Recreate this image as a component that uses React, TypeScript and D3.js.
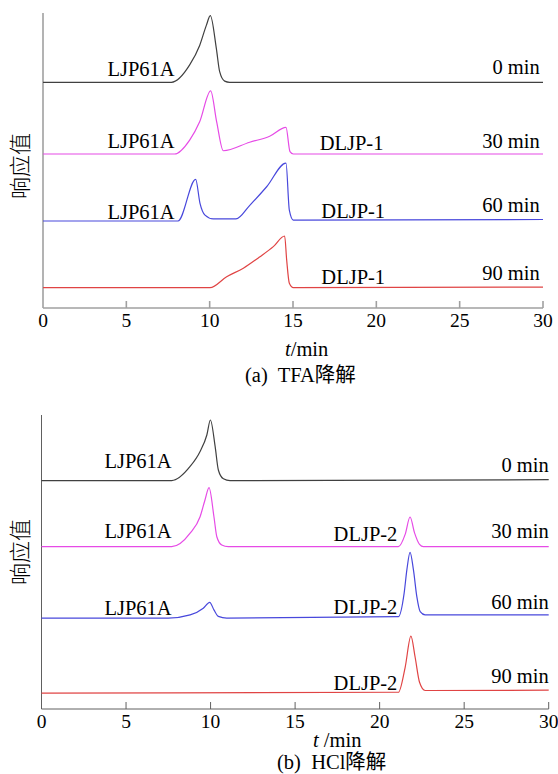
import * as d3 from "d3";
import { useEffect, useRef } from "react";

// time axis ticks (min)
const timeTicks = [0, 5, 10, 15, 20, 25, 30];
const sampleTimes = ["0 min", "30 min", "60 min", "90 min"];
const traceColors = ["#404040", "#e64be6", "#4848dc", "#e04444"];

// (a) TFA degradation: trace baselines and [t, response above baseline]
const tfaBaselines = [76.5, 52.2, 29.5, 6.9];
const tfa0 = [[0, 0], [7.7, 0], [8.8, 5.9], [9.4, 12.5], [9.8, 19.3], [10.04, 22.6], [10.4, 11.5], [10.6, 3.6], [10.9, 0.4], [11.2, 0], [30, 0]];
const tfa30 = [[0, 0], [7.9, 0], [8.8, 4.7], [9.4, 10.9], [10.06, 21.4], [10.42, 10.9], [10.82, 1.1], [12.4, 4.0], [13.6, 6.0], [14.58, 9.0], [14.82, 0.8], [15.02, 0], [30, 0]];
const tfa60 = [[0, 0], [8.1, 0], [9.16, 14.1], [9.42, 6.0], [9.72, 2.0], [10.22, 0.7], [11.58, 0.7], [12.42, 5.4], [13.42, 11.6], [14.58, 19.6], [14.78, 3.7], [15.02, 0.3], [30, 0.5]];
const tfa90 = [[0, 0], [10.02, 0], [11.02, 3.7], [12.02, 6.6], [13.02, 10.5], [13.82, 13.9], [14.5, 17.5], [14.62, 9.4], [14.78, 1.5], [15.02, 0], [30, 0.2]];

// (b) HCl degradation
const hclBaselines = [77.7, 55.2, 30.9, 5.4];
const hcl0 = [[0, 0], [7.7, 0], [8.79, 4.8], [9.38, 9.9], [9.78, 15.5], [9.99, 20.6], [10.27, 11.6], [10.46, 3.6], [10.76, 0.6], [11.15, 0], [30, 0.3]];
const hcl30 = [[0, 0], [7.7, 0], [8.79, 4.6], [9.38, 10.2], [9.67, 15.9], [9.91, 20.1], [10.2, 10.2], [10.37, 3.4], [10.66, 0.6], [11.05, 0], [21.11, 0], [21.51, 4.2], [21.8, 10.1], [22.06, 4.8], [22.36, 0.8], [22.59, 0], [30, 0]];
const hcl60 = [[0, 0], [7.5, 0], [8.79, 1.1], [9.57, 3.4], [9.95, 5.4], [10.2, 2.8], [10.46, 0.6], [10.96, 0], [21.11, 0.5], [21.45, 8.5], [21.61, 16.4], [21.8, 22.4], [22.0, 16.4], [22.2, 7.3], [22.4, 2.2], [22.69, 1.1], [30, 1.1]];
const hcl90 = [[0, 0], [21.11, 0.3], [21.51, 8.8], [21.85, 19.4], [22.1, 12.2], [22.36, 3.7], [22.69, 0.9], [30, 1.0]];

// peak labels: [trace index, text, time anchor, anchor side]
const tfaPeakLabels = [[0, "LJP61A", 7.9, "end"], [1, "LJP61A", 7.9, "end"], [1, "DLJP-1", 16.6, "start"], [2, "LJP61A", 7.9, "end"], [2, "DLJP-1", 16.7, "start"], [3, "DLJP-1", 16.7, "start"]];
const hclPeakLabels = [[0, "LJP61A", 7.7, "end"], [1, "LJP61A", 7.7, "end"], [1, "DLJP-2", 21.05, "end"], [2, "LJP61A", 7.7, "end"], [2, "DLJP-2", 21.05, "end"], [3, "DLJP-2", 21.05, "end"]];

const panels = [
    {
        traces: [tfa0, tfa30, tfa60, tfa90],
        baselines: tfaBaselines,
        labels: tfaPeakLabels,
        left: 43, right: 543, top: 13, bottom: 308,
        axisColor: "#a0a0a0", axisWidth: 1.6,
        labelDy: [-6.6, -6, -4, -2, -3.3, -3.7],
        timeDy: [-8.3, -6.3, -9.3, -7.7],
        timeX: 29.8,
        xTitle: "t/min", xTitleX: 285, xTitleY: 356,
        caption: "(a)  TFA降解", captionX: 245, captionY: 382,
        yLabelY: 166,
    },
    {
        traces: [hcl0, hcl30, hcl60, hcl90],
        baselines: hclBaselines,
        labels: hclPeakLabels,
        left: 41.5, right: 548.7, top: 415, bottom: 709,
        axisColor: "#606060", axisWidth: 1,
        labelDy: [-12.7, -8.7, -6, -3.3, -4, -3],
        timeDy: [-9, -8.4, -9, -9.7],
        timeX: 30,
        xTitle: "t /min", xTitleX: 313, xTitleY: 747,
        caption: "(b)  HCl降解", captionX: 277, captionY: 769,
        yLabelY: 552,
    },
];

const FONT = "'Liberation Serif', 'Times New Roman', 'Noto Sans CJK SC', serif";

function Panel({ p }) {
    const ref = useRef(null);

    useEffect(() => {
        const g = d3.select(ref.current);
        g.selectAll("*").remove();

        const x = d3.scaleLinear().domain([0, 30]).range([p.left, p.right]);
        const y = d3.scaleLinear().domain([0, 100]).range([p.bottom, p.top]);

        // axes
        g.append("line")
            .attr("x1", p.left).attr("x2", p.left)
            .attr("y1", p.top).attr("y2", p.bottom)
            .attr("stroke", p.axisColor).attr("stroke-width", p.axisWidth);
        g.append("line")
            .attr("x1", p.left).attr("x2", p.right)
            .attr("y1", p.bottom).attr("y2", p.bottom)
            .attr("stroke", p.axisColor).attr("stroke-width", p.axisWidth);

        g.selectAll(".tick")
            .data(timeTicks.slice(1))
            .enter()
            .append("line")
            .attr("x1", (d) => x(d)).attr("x2", (d) => x(d))
            .attr("y1", p.bottom).attr("y2", p.bottom - 7)
            .attr("stroke", p.axisColor).attr("stroke-width", p.axisWidth);

        g.selectAll(".ticklabel")
            .data(timeTicks)
            .enter()
            .append("text")
            .attr("x", (d) => x(d))
            .attr("y", p.bottom + 19)
            .attr("text-anchor", "middle")
            .attr("font-size", 19.5)
            .attr("font-family", FONT)
            .text((d) => d);

        // traces
        const line = d3
            .line()
            .x((d) => x(d[0]))
            .y((d) => d[1])
            .curve(d3.curveMonotoneX);

        p.traces.forEach((pts, i) => {
            g.append("path")
                .attr("d", line(pts.map((d) => [d[0], y(p.baselines[i] + d[1])])))
                .attr("fill", "none")
                .attr("stroke", traceColors[i])
                .attr("stroke-width", 1.2);

            g.append("text")
                .attr("x", x(p.timeX))
                .attr("y", y(p.baselines[i]) + p.timeDy[i])
                .attr("text-anchor", "end")
                .attr("font-size", 20.5)
                .attr("font-family", FONT)
                .text(sampleTimes[i]);
        });

        p.labels.forEach((l, k) => {
            g.append("text")
                .attr("x", x(l[2]))
                .attr("y", y(p.baselines[l[0]]) + p.labelDy[k])
                .attr("text-anchor", l[3])
                .attr("font-size", 20.5)
                .attr("font-family", FONT)
                .text(l[1]);
        });

        // axis titles
        const xt = g.append("text")
            .attr("x", p.xTitleX).attr("y", p.xTitleY)
            .attr("font-size", 20.5).attr("font-family", FONT);
        xt.append("tspan").attr("font-style", "italic").text("t");
        xt.append("tspan").text(p.xTitle.slice(1));

        g.append("text")
            .attr("x", p.captionX).attr("y", p.captionY)
            .attr("font-size", 20.5).attr("font-family", FONT)
            .style("white-space", "pre")
            .text(p.caption);

        g.append("text")
            .attr("transform", `translate(28, ${p.yLabelY}) rotate(-90)`)
            .attr("text-anchor", "middle")
            .attr("font-size", 22)
            .attr("font-family", "'Noto Sans CJK SC', sans-serif")
            .attr("font-weight", 300)
            .text("响应值");
    }, [p]);

    return <g ref={ref}></g>;
}

export default function App() {
    return (
        <svg
            width={558}
            height={774}
            style={{ position: "absolute", left: 0, top: 0, background: "#fff" }}
        >
            {panels.map((p, i) => (
                <Panel key={i} p={p} />
            ))}
        </svg>
    );
}
